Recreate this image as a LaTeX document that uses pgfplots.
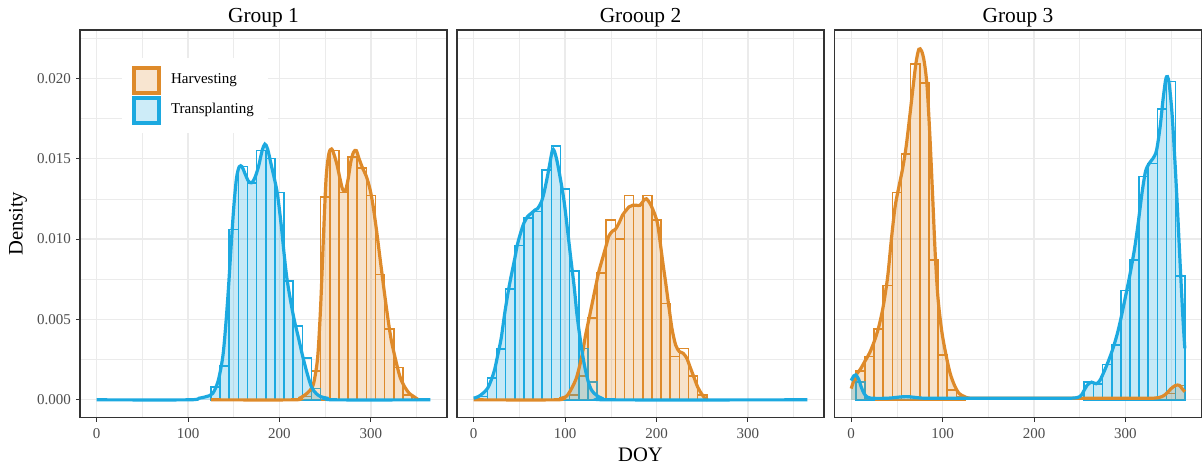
\documentclass[border=0pt]{standalone}
\usepackage{pgfplots}
\pgfplotsset{compat=1.18}
\usepackage{fontspec}
\setmainfont{Liberation Serif}

\definecolor{horange}{HTML}{DE8A2A}
\definecolor{tblue}{HTML}{1CA9E0}
\definecolor{gridc}{HTML}{EBEBEB}
\definecolor{grey20}{HTML}{333333}
\definecolor{grey30}{HTML}{4D4D4D}

\pgfplotsset{
  panel/.style={
    scale only axis, width=183.5pt, height=193.75pt,
    anchor=south west,
    xmin=-18.25, xmax=383.25, ymin=-0.0011, ymax=0.023,
    xtick={0,100,200,300}, xticklabels={0,100,200,300},
    minor xtick={50,150,250,350},
    ytick={0,0.005,0.01,0.015,0.02},
    minor ytick={0.0025,0.0075,0.0125,0.0175,0.0225},
    grid=both,
    major grid style={line width=0.6pt, draw=gridc},
    minor grid style={line width=0.3pt, draw=gridc},
    minor tick length=0pt, major tick length=2pt, tick align=outside,
    xtick pos=bottom, ytick pos=left,
    tick style={line width=0.5pt, draw=grey20},
    axis line style={line width=0.6pt, draw=grey20},
    ticklabel style={font=\fontsize{7.5}{9}\selectfont, text=grey30},
    yticklabel style={xshift=1pt},
    scaled y ticks=false,
  },
  noy/.style={yticklabels={}, ytick style={draw=none}},
  hist/.style={ybar, bar width=10, bar shift=0pt, fill=none, draw=#1,
    line width=0.8pt, forget plot},
  dfill/.style={draw=none, fill=#1, fill opacity=0.25, smooth, forget plot},
  dline/.style={draw=#1, line width=1.6pt, smooth, forget plot},
}

\begin{document}
\begin{tikzpicture}
\path[use as bounding box] (0,0) rectangle (601.5pt,234pt);

% Group 1
\begin{axis}[panel, at={(40pt,25.25pt)},
  yticklabels={0.000,0.005,0.010,0.015,0.020},
  legend style={at={(0.1136,0.930)}, anchor=north west, draw=none, fill=white,
    inner xsep=5pt, inner ysep=4pt, row sep=0.5pt, column sep=3pt,
    font=\fontsize{7.5}{9}\selectfont, cells={anchor=west}},
  legend cell align=left]
\addplot[hist=horange] coordinates {
  (230,0.0002) (240,0.0018) (250,0.0126) (260,0.0155) (270,0.0129) (280,0.0151)
  (290,0.0144) (300,0.0127) (310,0.0078) (320,0.0044) (330,0.0020) (340,0.0003)};
\addplot[hist=tblue] coordinates {
  (130,0.0008) (140,0.0021) (150,0.0106) (160,0.0145) (170,0.0135) (180,0.0155)
  (190,0.0150) (200,0.0129) (210,0.0074) (220,0.0046) (230,0.0026) (240,0.0007)};
% harvesting density
\addplot[dfill=horange] coordinates {
  (125,0) (215,0) (222,0.0001) (230,0.0004) (236,0.0008) (239,0.0015) (242,0.0028)
  (245,0.0058) (248,0.0100) (251,0.0138) (254,0.0153) (257,0.0156) (260,0.0152)
  (263,0.0146) (266,0.0138) (269,0.0131) (272,0.0130) (275,0.0137) (278,0.0148)
  (281,0.0154) (284,0.0155) (287,0.0150) (291,0.0144) (295,0.0139) (299,0.0131)
  (302,0.0122) (306,0.0106) (310,0.0088) (314,0.0070) (318,0.0053) (322,0.0038)
  (327,0.0025) (332,0.0014) (337,0.0008) (342,0.0004) (347,0.0002) (352,0)} \closedcycle;
\addplot[dfill=tblue] coordinates {
  (0,0) (100,0) (112,0.0001) (120,0.0002) (127,0.0004) (133,0.0012) (138,0.0027)
  (141,0.0045) (144,0.0068) (147,0.0095) (150,0.0120) (153,0.0138) (156,0.0145)
  (159,0.0145) (162,0.0141) (166,0.0136) (169.5,0.0135) (173,0.0138) (177,0.0145)
  (181,0.0155) (184,0.0159) (187,0.0156) (191,0.0146) (195,0.0136) (198,0.0127)
  (202,0.0108) (205,0.0091) (208,0.0076) (212,0.0062) (216,0.0050) (221,0.0038)
  (225,0.0028) (230,0.0017) (235,0.0008) (240,0.0004) (245,0.0002) (252,0.0001)
  (260,0) (365,0)} \closedcycle;
\addplot[dline=horange] coordinates {
  (125,0) (215,0) (222,0.0001) (230,0.0004) (236,0.0008) (239,0.0015) (242,0.0028)
  (245,0.0058) (248,0.0100) (251,0.0138) (254,0.0153) (257,0.0156) (260,0.0152)
  (263,0.0146) (266,0.0138) (269,0.0131) (272,0.0130) (275,0.0137) (278,0.0148)
  (281,0.0154) (284,0.0155) (287,0.0150) (291,0.0144) (295,0.0139) (299,0.0131)
  (302,0.0122) (306,0.0106) (310,0.0088) (314,0.0070) (318,0.0053) (322,0.0038)
  (327,0.0025) (332,0.0014) (337,0.0008) (342,0.0004) (347,0.0002) (352,0)};
\addplot[dline=tblue] coordinates {
  (0,0) (100,0) (112,0.0001) (120,0.0002) (127,0.0004) (133,0.0012) (138,0.0027)
  (141,0.0045) (144,0.0068) (147,0.0095) (150,0.0120) (153,0.0138) (156,0.0145)
  (159,0.0145) (162,0.0141) (166,0.0136) (169.5,0.0135) (173,0.0138) (177,0.0145)
  (181,0.0155) (184,0.0159) (187,0.0156) (191,0.0146) (195,0.0136) (198,0.0127)
  (202,0.0108) (205,0.0091) (208,0.0076) (212,0.0062) (216,0.0050) (221,0.0038)
  (225,0.0028) (230,0.0017) (235,0.0008) (240,0.0004) (245,0.0002) (252,0.0001)
  (260,0) (365,0)};
\addlegendimage{legend image code/.code={\draw[draw=horange, fill=horange!22, line width=2pt] (0pt,-6.25pt) rectangle (12.5pt,6.25pt);}}
\addlegendentry{Harvesting}
\addlegendimage{legend image code/.code={\draw[draw=tblue, fill=tblue!22, line width=2pt] (0pt,-6.25pt) rectangle (12.5pt,6.25pt);}}
\addlegendentry{Transplanting}
\end{axis}

% Group 2
\begin{axis}[panel, noy, at={(228.5pt,25.25pt)}]
\addplot[hist=horange] coordinates {
  (110,0.0003) (120,0.0015) (130,0.0051) (140,0.0079) (150,0.0112) (160,0.0100)
  (170,0.0127) (180,0.0121) (190,0.0127) (200,0.0112) (210,0.0060) (220,0.0027)
  (230,0.0032) (240,0.0015) (250,0.0003)};
\addplot[hist=tblue] coordinates {
  (10,0.0002) (20,0.00135) (30,0.00315) (40,0.0069) (50,0.0096) (60,0.0113)
  (70,0.0117) (80,0.0143) (90,0.0158) (100,0.0131) (110,0.0080) (120,0.0032)
  (130,0.0011)};
\addplot[dfill=horange] coordinates {
  (0,0) (90,0) (96,0.0001) (101,0.0002) (104,0.0004) (108,0.0008) (112,0.0013)
  (115,0.0019) (119,0.0029) (122,0.0039) (126,0.0050) (130,0.0061) (134,0.0072)
  (137,0.0080) (141,0.0088) (145,0.0096) (148,0.0102) (152,0.0105) (155,0.0106)
  (159,0.0110) (163,0.0115) (167,0.0118) (170,0.0120) (174,0.0121) (178,0.0121)
  (182,0.0121) (186,0.0124) (189,0.0125) (193,0.0122) (197,0.0117) (201,0.0110)
  (204,0.0098) (207,0.0085) (210,0.0073) (214,0.0056) (217,0.0044) (221,0.0034)
  (225,0.0030) (229,0.0029) (233,0.0026) (237,0.0020) (241,0.0014) (245,0.0008)
  (249,0.0004) (253,0.0001) (256,0)} \closedcycle;
\addplot[dfill=tblue] coordinates {
  (0,0.0001) (5,0.0002) (10,0.0004) (15,0.0007) (19,0.0012) (23,0.0019) (26,0.0027)
  (30,0.0038) (34,0.0054) (38,0.0068) (41,0.0077) (45,0.0088) (48,0.0097)
  (52,0.0105) (55,0.0110) (59,0.0114) (63,0.0116) (67,0.0118) (70,0.0119)
  (74,0.0123) (77,0.0129) (80,0.0137) (83,0.0146) (86,0.0155) (88,0.0155)
  (91,0.0149) (95,0.0137) (99,0.0123) (103,0.0104) (106,0.0089) (110,0.0070)
  (113,0.0053) (117,0.0036) (121,0.0022) (125,0.0012) (129,0.0006) (134,0.0003)
  (140,0.0001) (150,0) (365,0)} \closedcycle;
\addplot[dline=horange] coordinates {
  (0,0) (90,0) (96,0.0001) (101,0.0002) (104,0.0004) (108,0.0008) (112,0.0013)
  (115,0.0019) (119,0.0029) (122,0.0039) (126,0.0050) (130,0.0061) (134,0.0072)
  (137,0.0080) (141,0.0088) (145,0.0096) (148,0.0102) (152,0.0105) (155,0.0106)
  (159,0.0110) (163,0.0115) (167,0.0118) (170,0.0120) (174,0.0121) (178,0.0121)
  (182,0.0121) (186,0.0124) (189,0.0125) (193,0.0122) (197,0.0117) (201,0.0110)
  (204,0.0098) (207,0.0085) (210,0.0073) (214,0.0056) (217,0.0044) (221,0.0034)
  (225,0.0030) (229,0.0029) (233,0.0026) (237,0.0020) (241,0.0014) (245,0.0008)
  (249,0.0004) (253,0.0001) (256,0)};
\addplot[dline=tblue] coordinates {
  (0,0.0001) (5,0.0002) (10,0.0004) (15,0.0007) (19,0.0012) (23,0.0019) (26,0.0027)
  (30,0.0038) (34,0.0054) (38,0.0068) (41,0.0077) (45,0.0088) (48,0.0097)
  (52,0.0105) (55,0.0110) (59,0.0114) (63,0.0116) (67,0.0118) (70,0.0119)
  (74,0.0123) (77,0.0129) (80,0.0137) (83,0.0146) (86,0.0155) (88,0.0155)
  (91,0.0149) (95,0.0137) (99,0.0123) (103,0.0104) (106,0.0089) (110,0.0070)
  (113,0.0053) (117,0.0036) (121,0.0022) (125,0.0012) (129,0.0006) (134,0.0003)
  (140,0.0001) (150,0) (365,0)};
\end{axis}

% Group 3
\begin{axis}[panel, noy, at={(417.25pt,25.25pt)}]
\addplot[hist=horange] coordinates {
  (10,0.0018) (20,0.0027) (30,0.0044) (40,0.0071) (50,0.0129) (60,0.0153)
  (70,0.0209) (80,0.0197) (90,0.0087) (100,0.0028) (110,0.0006) (120,0.0002)
  (350,0.0004) (360,0.0009)};
\addplot[hist=tblue] coordinates {
  (10,0.0011) (20,0.0001) (260,0.0011) (270,0.0010) (280,0.0022) (290,0.0034)
  (300,0.0068) (310,0.0087) (320,0.0139) (330,0.0147) (340,0.0181) (350,0.0198)
  (360,0.0077)};
\addplot[dfill=horange] coordinates {
  (0,0.0007) (3,0.0012) (6,0.0016) (10,0.0019) (15,0.0024) (20,0.0029) (25,0.0036)
  (30,0.0045) (35,0.0058) (40,0.0077) (44,0.0100) (48,0.0120) (52,0.0132)
  (56,0.0143) (60,0.0157) (64,0.0176) (68,0.0196) (71,0.0210) (74,0.0218)
  (77,0.0217) (80,0.0210) (83,0.0195) (86,0.0165) (89,0.0128) (92,0.0090)
  (95,0.0063) (99,0.0043) (103,0.0030) (108,0.0017) (113,0.0009) (118,0.0004)
  (124,0.0002) (130,0.0001) (150,0.0001) (170,0.0001) (200,0.0001) (230,0.0001)
  (260,0.0001) (300,0.0001) (330,0.0001) (340,0.0002) (345,0.0004) (350,0.0007)
  (355,0.0009) (359,0.0009) (362,0.0007) (365,0.0005)} \closedcycle;
\addplot[dfill=tblue] coordinates {
  (0,0.0012) (3,0.0015) (5,0.00155) (8,0.0013) (11,0.0008) (14,0.0004) (17,0.0002)
  (22,0.0001) (40,0.0001) (60,0.0002) (80,0.0001) (120,0.0001) (160,0.0001)
  (200,0.0001) (240,0.0001) (250,0.0002) (254,0.0005) (258,0.0009) (263,0.0011)
  (268,0.0010) (272,0.0012) (277,0.0018) (282,0.0025) (287,0.0033) (292,0.0043)
  (296,0.0053) (300,0.0064) (305,0.0078) (310,0.0094) (314,0.0110) (318,0.0128)
  (322,0.0142) (326,0.0147) (330,0.0150) (334,0.0155) (338,0.0170) (341,0.0186)
  (344,0.0199) (346,0.0201) (348,0.0196) (351,0.0178) (354,0.0150) (357,0.0118)
  (360,0.0083) (363,0.0050) (365,0.0032)} \closedcycle;
\addplot[dline=horange] coordinates {
  (0,0.0007) (3,0.0012) (6,0.0016) (10,0.0019) (15,0.0024) (20,0.0029) (25,0.0036)
  (30,0.0045) (35,0.0058) (40,0.0077) (44,0.0100) (48,0.0120) (52,0.0132)
  (56,0.0143) (60,0.0157) (64,0.0176) (68,0.0196) (71,0.0210) (74,0.0218)
  (77,0.0217) (80,0.0210) (83,0.0195) (86,0.0165) (89,0.0128) (92,0.0090)
  (95,0.0063) (99,0.0043) (103,0.0030) (108,0.0017) (113,0.0009) (118,0.0004)
  (124,0.0002) (130,0.0001) (150,0.0001) (170,0.0001) (200,0.0001) (230,0.0001)
  (260,0.0001) (300,0.0001) (330,0.0001) (340,0.0002) (345,0.0004) (350,0.0007)
  (355,0.0009) (359,0.0009) (362,0.0007) (365,0.0005)};
\addplot[dline=tblue] coordinates {
  (0,0.0012) (3,0.0015) (5,0.00155) (8,0.0013) (11,0.0008) (14,0.0004) (17,0.0002)
  (22,0.0001) (40,0.0001) (60,0.0002) (80,0.0001) (120,0.0001) (160,0.0001)
  (200,0.0001) (240,0.0001) (250,0.0002) (254,0.0005) (258,0.0009) (263,0.0011)
  (268,0.0010) (272,0.0012) (277,0.0018) (282,0.0025) (287,0.0033) (292,0.0043)
  (296,0.0053) (300,0.0064) (305,0.0078) (310,0.0094) (314,0.0110) (318,0.0128)
  (322,0.0142) (326,0.0147) (330,0.0150) (334,0.0155) (338,0.0170) (341,0.0186)
  (344,0.0199) (346,0.0201) (348,0.0196) (351,0.0178) (354,0.0150) (357,0.0118)
  (360,0.0083) (363,0.0050) (365,0.0032)};
\end{axis}

% panel titles and shared axis labels
\begin{scope}[every node/.style={anchor=base, font=\fontsize{10.7}{12}\selectfont}]
\node at (131.75pt,223pt) {Group 1};
\node at (320.25pt,223pt) {Grooup 2};
\node at (509pt,223pt) {Group 3};
\end{scope}
\node[rotate=90, font=\fontsize{10.3}{12}\selectfont] at (9pt,122.1pt) {Density};
\node[anchor=base, font=\fontsize{10.3}{12}\selectfont] at (320.25pt,3.25pt) {DOY};
\end{tikzpicture}
\end{document}
